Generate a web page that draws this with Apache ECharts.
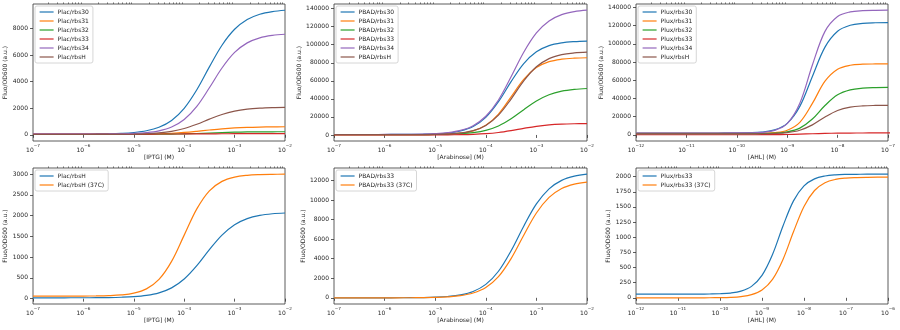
<!DOCTYPE html>
<html>
<head>
<meta charset="utf-8">
<script src="https://cdn.jsdelivr.net/npm/echarts@6/dist/echarts.min.js"></script>
<style>
html, body { margin: 0; padding: 0; background: #fff; }
#chart { width: 900px; height: 330px; }
</style>
</head>
<body>
<div id="chart"></div>
<script>
// Inducer concentrations (M), quarter-decade steps
const iptgM = [1e-7, 1.78e-7, 3.16e-7, 5.62e-7, 1e-6, 1.78e-6, 3.16e-6, 5.62e-6, 1e-5, 1.78e-5, 3.16e-5, 5.62e-5,
  1e-4, 1.78e-4, 3.16e-4, 5.62e-4, 1e-3, 1.78e-3, 3.16e-3, 5.62e-3, 1e-2];
const arabinoseM = [1e-7, 1.78e-7, 3.16e-7, 5.62e-7, 1e-6, 1.78e-6, 3.16e-6, 5.62e-6, 1e-5, 1.78e-5, 3.16e-5, 5.62e-5,
  1e-4, 1.78e-4, 3.16e-4, 5.62e-4, 1e-3, 1.78e-3, 3.16e-3, 5.62e-3, 1e-2];
const ahlM = [1e-12, 1.78e-12, 3.16e-12, 5.62e-12, 1e-11, 1.78e-11, 3.16e-11, 5.62e-11, 1e-10, 1.78e-10, 3.16e-10, 5.62e-10,
  1e-9, 1.78e-9, 3.16e-9, 5.62e-9, 1e-8, 1.78e-8, 3.16e-8, 5.62e-8, 1e-7, 1.78e-7, 3.16e-7, 5.62e-7, 1e-6];

// Plac promoter, IPTG response (Fluo/OD600)
const lacRbs30 = [50, 51, 51, 53, 56, 63, 77, 108, 171, 303, 569, 1083, 1996, 3394, 5117, 6752, 7955, 8692, 9090, 9291, 9390];
const lacRbs31 = [30, 30, 30, 30, 31, 32, 33, 36, 42, 53, 75, 113, 174, 261, 360, 450, 517, 559, 583, 596, 603];
const lacRbs32 = [30, 30, 30, 30, 30, 30, 31, 31, 32, 35, 40, 49, 67, 94, 130, 166, 193, 211, 220, 225, 228];
const lacRbs33 = [55, 55, 55, 55, 55, 55, 55, 55, 55, 55, 56, 58, 61, 65, 70, 75, 80, 82, 84, 85, 85];
const lacRbs34 = [50, 50, 50, 51, 52, 55, 60, 73, 101, 163, 299, 586, 1153, 2143, 3544, 5034, 6207, 6930, 7310, 7494, 7580];
const lacRbsH = [20, 20, 20, 21, 21, 23, 26, 33, 47, 78, 140, 260, 473, 794, 1180, 1531, 1781, 1928, 2006, 2045, 2063];
const lacRbsH37 = [60, 60, 60, 61, 62, 65, 72, 89, 132, 235, 462, 897, 1530, 2163, 2598, 2825, 2928, 2971, 2988, 2995, 2998];

// PBAD promoter, arabinose response
const badRbs30 = [500, 502, 504, 509, 521, 551, 622, 792, 1199, 2159, 4396, 9375, 19522, 36838, 59052, 79072, 92134, 98967, 102118, 103491, 104074];
const badRbs31 = [300, 300, 300, 302, 305, 314, 336, 394, 546, 944, 1976, 4566, 10740, 23188, 42212, 61569, 74625, 81183, 83979, 85099, 85535];
const badRbs32 = [300, 300, 302, 304, 308, 319, 342, 395, 511, 770, 1340, 2572, 5126, 9993, 17928, 27974, 37636, 44542, 48525, 50542, 51499];
const badRbs33 = [0, 0, 0, 1, 2, 6, 12, 27, 61, 136, 300, 652, 1373, 2715, 4811, 7320, 9594, 11137, 12000, 12430, 12634];
const badRbs34 = [500, 503, 508, 517, 537, 583, 688, 918, 1434, 2572, 5059, 10300, 20683, 38781, 64412, 91656, 113090, 126323, 133287, 136650, 138221];
const badRbsH = [300, 300, 302, 304, 309, 323, 355, 432, 626, 1095, 2226, 4788, 10588, 22006, 39777, 59861, 75500, 84611, 88997, 90892, 91720];
const badRbs33At37 = [0, 0, 0, 1, 2, 4, 8, 19, 43, 97, 219, 491, 1057, 2162, 4006, 6394, 8666, 10264, 11172, 11622, 11832];

// Plux promoter, AHL response
const luxRbs30 = [2000, 2000, 2000, 2000, 2000, 2003, 2009, 2029, 2096, 2319, 3049, 5406, 12620, 31245, 64208, 96357, 113780, 120390, 122540, 123208, 123415];
const luxRbs31 = [1500, 1500, 1500, 1500, 1500, 1500, 1500, 1504, 1515, 1558, 1730, 2410, 4996, 13740, 34502, 58974, 72125, 76432, 77602, 77900, 77977];
const luxRbs32 = [1200, 1200, 1200, 1200, 1200, 1200, 1201, 1205, 1216, 1256, 1386, 1819, 3215, 7376, 17311, 32172, 43938, 49421, 51338, 51940, 52124];
const luxRbs33 = [60, 60, 60, 60, 60, 60, 61, 63, 67, 79, 111, 189, 370, 715, 1185, 1600, 1848, 1963, 2010, 2029, 2036, 2038, 2040, 2040, 2040];
const luxRbs34 = [2000, 2000, 2000, 2000, 2000, 2000, 2003, 2013, 2050, 2195, 2745, 4818, 12344, 34806, 76792, 113730, 130110, 135150, 136514, 136880, 136967];
const luxRbsH = [1000, 1000, 1000, 1000, 1000, 1000, 1002, 1005, 1015, 1049, 1151, 1467, 2418, 5045, 10935, 19582, 26770, 30408, 31798, 32273, 32428];
const luxRbs33At37 = [0, 0, 0, 0, 0, 0, 0, 1, 3, 8, 21, 52, 130, 305, 634, 1089, 1508, 1771, 1899, 1954, 1976, 1984, 1988, 1990, 1990];

// Tick labels
const iptgTicks = [1e-7, 1e-6, 1e-5, 1e-4, 1e-3, 1e-2];
const ahlTopTicks = [1e-12, 1e-11, 1e-10, 1e-9, 1e-8, 1e-7];
const ahlBottomTicks = [1e-12, 1e-11, 1e-10, 1e-9, 1e-8, 1e-7, 1e-6];
const yTicksLacTop = [0, 2000, 4000, 6000, 8000];
const yTicks140k = [0, 20000, 40000, 60000, 80000, 100000, 120000, 140000];
const yTicksLacBottom = [0, 500, 1000, 1500, 2000, 2500, 3000];
const yTicksBadBottom = [0, 2000, 4000, 6000, 8000, 10000, 12000];
const yTicksLuxBottom = [0, 250, 500, 750, 1000, 1250, 1500, 1750, 2000];

const C = {
  blue: '#1f77b4', orange: '#ff7f0e', green: '#2ca02c',
  red: '#d62728', purple: '#9467bd', brown: '#8c564b'
};
const FONT = 'DejaVu Sans';
const TEXT = '#262626';

const panels = [
  { left: 33, top: 4, width: 252, height: 137, x: iptgM, ticks: iptgTicks, xName: '[IPTG] (M)',
    yMin: -470, yMax: 9860, yTicks: yTicksLacTop, yGap: 22,
    series: [['Plac/rbs30', lacRbs30, C.blue], ['Plac/rbs31', lacRbs31, C.orange], ['Plac/rbs32', lacRbs32, C.green],
             ['Plac/rbs33', lacRbs33, C.red], ['Plac/rbs34', lacRbs34, C.purple], ['Plac/rbsH', lacRbsH, C.brown]] },
  { left: 334, top: 4, width: 253, height: 137, x: arabinoseM, ticks: iptgTicks, xName: '[Arabinose] (M)',
    yMin: -6700, yMax: 145100, yTicks: yTicks140k, yGap: 28,
    series: [['PBAD/rbs30', badRbs30, C.blue], ['PBAD/rbs31', badRbs31, C.orange], ['PBAD/rbs32', badRbs32, C.green],
             ['PBAD/rbs33', badRbs33, C.red], ['PBAD/rbs34', badRbs34, C.purple], ['PBAD/rbsH', badRbsH, C.brown]] },
  { left: 636, top: 4, width: 252, height: 137, x: ahlM, ticks: ahlTopTicks, xName: '[AHL] (M)',
    yMin: -6800, yMax: 143800, yTicks: yTicks140k, yGap: 29,
    series: [['Plux/rbs30', luxRbs30, C.blue], ['Plux/rbs31', luxRbs31, C.orange], ['Plux/rbs32', luxRbs32, C.green],
             ['Plux/rbs33', luxRbs33, C.red], ['Plux/rbs34', luxRbs34, C.purple], ['Plux/rbsH', luxRbsH, C.brown]] },
  { left: 33, top: 168, width: 252, height: 136, x: iptgM, ticks: iptgTicks, xName: '[IPTG] (M)',
    yMin: -129, yMax: 3147, yTicks: yTicksLacBottom, yGap: 23,
    series: [['Plac/rbsH', lacRbsH, C.blue], ['Plac/rbsH (37C)', lacRbsH37, C.orange]] },
  { left: 334, top: 168, width: 253, height: 136, x: arabinoseM, ticks: iptgTicks, xName: '[Arabinose] (M)',
    yMin: -632, yMax: 13266, yTicks: yTicksBadBottom, yGap: 26,
    series: [['PBAD/rbs33', badRbs33, C.blue], ['PBAD/rbs33 (37C)', badRbs33At37, C.orange]] },
  { left: 636, top: 168, width: 252, height: 136, x: ahlM, ticks: ahlBottomTicks, xName: '[AHL] (M)',
    yMin: -102, yMax: 2142, yTicks: yTicksLuxBottom, yGap: 23,
    series: [['Plux/rbs33', luxRbs33, C.blue], ['Plux/rbs33 (37C)', luxRbs33At37, C.orange]] }
];

// matplotlib-style minor ticks at 2..9 x 10^n
function minorTicks(decades) {
  const out = [];
  for (let i = 0; i < decades.length - 1; i++) {
    for (let k = 2; k <= 9; k++) out.push(decades[i] * k);
  }
  return out;
}

function powerLabel(v) {
  const e = Math.round(Math.log10(v));
  return '{b|10}{s|' + (e < 0 ? '\u2212' : '') + Math.abs(e) + '}';
}

const grid = [], xAxis = [], yAxis = [], series = [], legend = [];

panels.forEach((p, i) => {
  grid.push({
    left: p.left, top: p.top, width: p.width, height: p.height,
    show: true, borderColor: '#333', borderWidth: 0.8, backgroundColor: 'transparent'
  });
  const xMin = p.ticks[0], xMax = p.ticks[p.ticks.length - 1];
  xAxis.push({
    type: 'log', logBase: 10, gridIndex: i, min: xMin, max: xMax,
    name: p.xName, nameLocation: 'middle', nameGap: 13,
    nameTextStyle: { fontFamily: FONT, fontSize: 6, color: TEXT },
    axisLine: { show: false },
    splitLine: { show: false },
    axisTick: { show: true, length: 3, customValues: p.ticks, lineStyle: { color: '#333', width: 0.8 } },
    axisLabel: {
      show: true, margin: 3, customValues: p.ticks, formatter: powerLabel, color: TEXT,
      rich: {
        b: { fontFamily: FONT, fontSize: 6, color: TEXT, lineHeight: 9, verticalAlign: 'bottom' },
        s: { fontFamily: FONT, fontSize: 4.2, color: TEXT, lineHeight: 9, verticalAlign: 'top' }
      }
    }
  });
  xAxis.push({
    type: 'log', logBase: 10, gridIndex: i, min: xMin, max: xMax,
    axisLine: { show: false }, splitLine: { show: false },
    axisLabel: { show: false },
    axisTick: { show: true, length: 1.6, customValues: minorTicks(p.ticks), lineStyle: { color: '#333', width: 0.6 } }
  });
  yAxis.push({
    type: 'value', gridIndex: i, min: p.yMin, max: p.yMax,
    name: 'Fluo/OD600 (a.u.)', nameLocation: 'middle', nameGap: p.yGap, nameRotate: 90,
    nameTextStyle: { fontFamily: FONT, fontSize: 6, color: TEXT },
    axisLine: { show: false },
    splitLine: { show: false },
    axisTick: { show: true, length: 3, customValues: p.yTicks, lineStyle: { color: '#333', width: 0.8 } },
    axisLabel: {
      show: true, margin: 5, customValues: p.yTicks, fontFamily: FONT, fontSize: 6, color: TEXT,
      formatter: v => String(v)
    }
  });
  const legendData = [];
  p.series.forEach(([name, values, color]) => {
    series.push({
      type: 'line', name: name, xAxisIndex: 2 * i, yAxisIndex: i,
      data: p.x.map((c, k) => [c, values[k]]),
      showSymbol: false, symbol: 'none', smooth: 0.35,
      lineStyle: { color: color, width: 1.2 }, itemStyle: { color: color },
      emphasis: { disabled: true }
    });
    // line-only legend key: the marker symbol is made fully transparent
    legendData.push({
      name: name,
      itemStyle: { color: 'rgba(0,0,0,0)', borderColor: 'rgba(0,0,0,0)', borderWidth: 0 },
      lineStyle: { color: color, width: 1.2 }
    });
  });
  legend.push({
    orient: 'vertical', left: p.left + 2, top: p.top + 2,
    data: legendData, selectedMode: false,
    itemWidth: 14, itemHeight: 6, itemGap: 3,
    padding: [3, 4, 3, 4],
    backgroundColor: 'rgba(255,255,255,0.8)', borderColor: '#cccccc', borderWidth: 0.8, borderRadius: 2,
    textStyle: { fontFamily: FONT, fontSize: 6, color: TEXT, padding: [0, 0, 0, -1] }
  });
});

const chart = echarts.init(document.getElementById('chart'), null, { renderer: 'canvas' });
chart.setOption({
  animation: false,
  backgroundColor: '#ffffff',
  grid, xAxis, yAxis, legend, series
});
</script>
</body>
</html>
